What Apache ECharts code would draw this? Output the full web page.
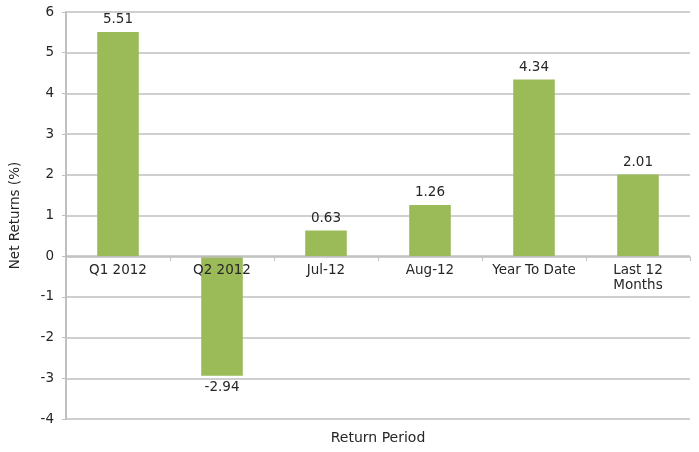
<!DOCTYPE html>
<html>
<head>
<meta charset="utf-8">
<script src="https://cdn.jsdelivr.net/npm/echarts@6/dist/echarts.min.js"></script>
<style>
  html, body { margin: 0; padding: 0; background: #fff; }
  #chart { width: 699px; height: 452px; }
</style>
</head>
<body>
<div id="chart"></div>
<script>
// Return periods and the net return for each
const categories = ['Q1 2012', 'Q2 2012', 'Jul-12', 'Aug-12', 'Year To Date', 'Last 12\nMonths'];
const netReturns = [5.51, -2.94, 0.63, 1.26, 4.34, 2.01];
const yMin = -4, yMax = 6, yStep = 1;

const FONT = 'DejaVu Sans';
const TEXT = '#262626';
const GRID = '#bfbfbf';
const PLOT = { left: 66, right: 9, top: 12, bottom: 33 };

const chart = echarts.init(document.getElementById('chart'), null, { renderer: 'canvas' });
chart.setOption({
  animation: false,
  textStyle: { fontFamily: FONT },
  grid: Object.assign({ containLabel: false }, PLOT),
  xAxis: {
    type: 'category',
    data: categories,
    z: 5,
    axisLine: { show: true, onZero: false, lineStyle: { color: GRID, width: 1.5 } },
    axisTick: { show: true, alignWithLabel: false, length: 4, lineStyle: { color: GRID } },
    axisLabel: { color: TEXT, fontSize: 13.5, margin: 6, fontFamily: FONT, lineHeight: 15, interval: 0 },
    splitLine: { show: false }
  },
  yAxis: {
    type: 'value',
    min: yMin, max: yMax, interval: yStep,
    name: 'Net Returns (%)',
    nameLocation: 'middle',
    nameGap: 44,
    nameTextStyle: { color: TEXT, fontSize: 13.5, fontFamily: FONT },
    axisLine: { show: true, lineStyle: { color: GRID, width: 2 } },
    axisTick: { show: true, length: 4, lineStyle: { color: GRID } },
    axisLabel: { color: TEXT, fontSize: 13.5, margin: 12, fontFamily: FONT },
    splitLine: { show: true, lineStyle: { color: GRID, width: 1.5 } }
  },
  graphic: [{
    type: 'text',
    x: PLOT.left + (699 - PLOT.left - PLOT.right) / 2,
    y: 431,
    style: { text: 'Return Period', fill: TEXT, font: '14px "DejaVu Sans"', align: 'center' }
  }],
  series: [{
    type: 'bar',
    data: netReturns,
    barWidth: '40%',
    itemStyle: { color: '#9bbb59' },
    label: {
      show: true,
      position: 'outside',
      color: TEXT,
      fontSize: 13.5,
      fontFamily: FONT,
      distance: 5,
      formatter: p => p.value.toFixed(2)
    }
  }]
});

// Lift the category axis up to the zero line of the value scale
const zeroPx = chart.convertToPixel({ yAxisIndex: 0 }, 0);
const basePx = chart.convertToPixel({ yAxisIndex: 0 }, yMin);
chart.setOption({ xAxis: { offset: -Math.round(basePx - zeroPx) } });
</script>
</body>
</html>
